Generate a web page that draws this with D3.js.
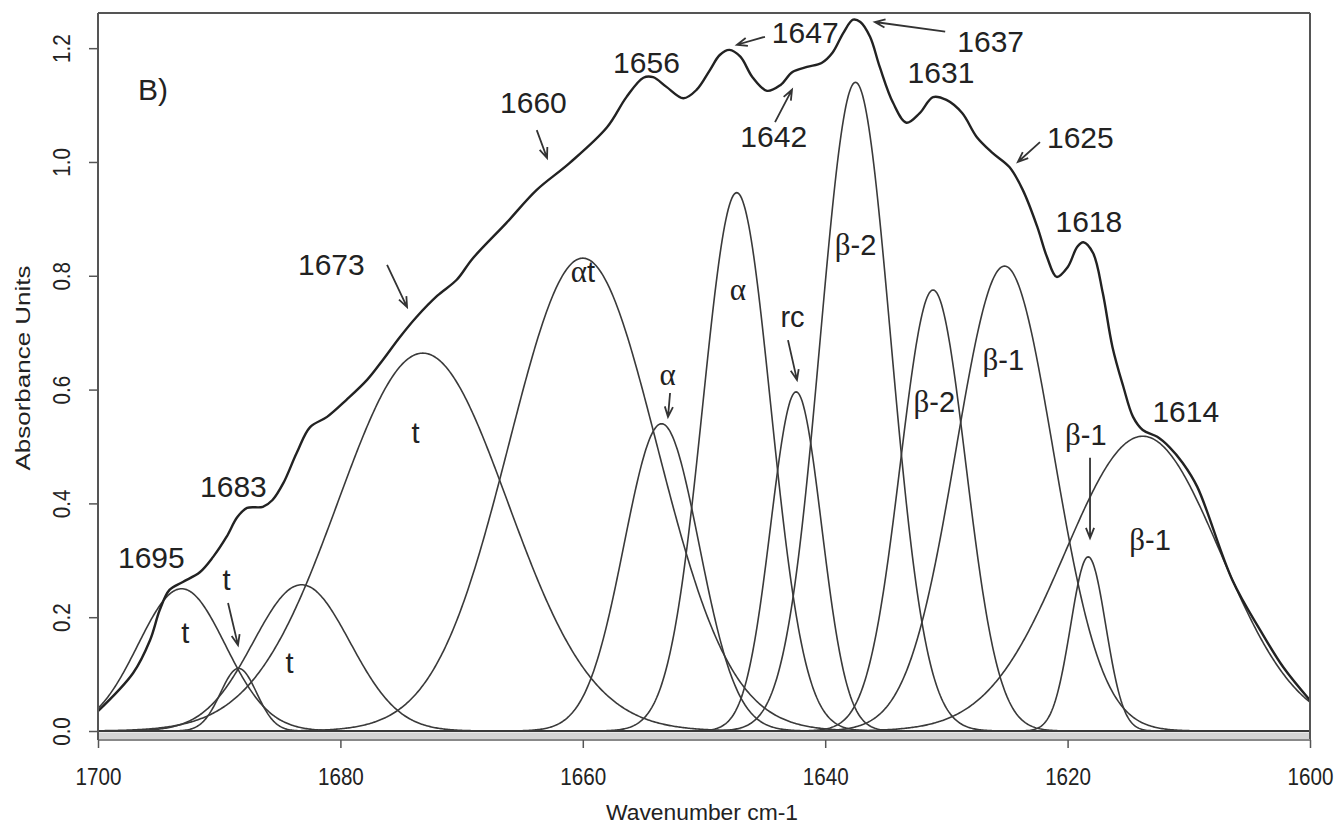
<!DOCTYPE html>
<html>
<head>
<meta charset="utf-8">
<script src="https://cdn.jsdelivr.net/npm/d3@7"></script>
<style>
  html, body { margin: 0; padding: 0; background: #fff; }
  svg { display: block; }
  text { font-family: "Liberation Sans", Arial, sans-serif; fill: #222; }
  .greek { font-family: "Liberation Serif", "Times New Roman", serif; }
</style>
</head>
<body>
<svg id="chart" width="1339" height="836"></svg>
<script>
// Amide I region: measured absorbance spectrum (wavenumber, absorbance)
const spectrumWavenumber = [
  1700.0, 1697.1, 1695.7, 1694.9, 1694.1, 1693.0, 1691.6, 1690.5, 1689.4, 1688.5,
  1687.7, 1686.4, 1685.6, 1684.7, 1683.6, 1682.5, 1681.1, 1679.5, 1677.8, 1676.5,
  1675.1, 1673.7, 1672.0, 1670.4, 1669.1, 1666.3, 1663.8, 1661.1, 1658.0, 1656.4,
  1655.0, 1654.2, 1653.1, 1651.7, 1650.6, 1649.5, 1648.7, 1647.9, 1647.0, 1646.0,
  1644.8, 1643.7, 1642.7, 1641.5, 1640.3, 1639.4, 1638.5, 1637.7, 1637.1, 1636.3,
  1635.5, 1634.4, 1633.3, 1632.2, 1631.1, 1630.0, 1628.7, 1627.5, 1626.2, 1624.8,
  1623.7, 1622.5, 1621.7, 1620.9, 1620.0, 1619.2, 1618.7, 1617.9, 1617.1, 1616.3,
  1615.4, 1614.6, 1613.8, 1612.6, 1611.6, 1610.5, 1609.3, 1606.4, 1604.1, 1602.2,
  1600.0
];
const spectrumAbsorbance = [
  0.035, 0.102, 0.160, 0.213, 0.248, 0.262, 0.279, 0.306, 0.341, 0.376,
  0.392, 0.394, 0.406, 0.436, 0.489, 0.534, 0.552, 0.582, 0.617, 0.652,
  0.692, 0.728, 0.765, 0.793, 0.830, 0.893, 0.951, 0.998, 1.061, 1.114,
  1.148, 1.149, 1.132, 1.112, 1.127, 1.162, 1.188, 1.197, 1.185, 1.149,
  1.125, 1.135, 1.158, 1.167, 1.174, 1.192, 1.227, 1.250, 1.246, 1.220,
  1.167, 1.104, 1.069, 1.086, 1.114, 1.109, 1.086, 1.044, 1.016, 0.991,
  0.951, 0.886, 0.833, 0.798, 0.815, 0.851, 0.859, 0.840, 0.770, 0.675,
  0.605, 0.552, 0.529, 0.517, 0.499, 0.471, 0.429, 0.265, 0.177, 0.112,
  0.054
];

// Fitted Gaussian component bands: position (cm-1), peak height (AU), standard deviation (cm-1)
const bandCenter = [1693.1, 1688.4, 1683.2, 1673.2, 1660.0, 1653.5, 1647.3, 1642.4, 1637.5, 1631.1, 1625.2, 1618.3, 1613.8];
const bandHeight = [0.250, 0.110, 0.257, 0.664, 0.831, 0.540, 0.946, 0.596, 1.140, 0.775, 0.817, 0.306, 0.518];
const bandSigma  = [3.6,   1.5,   4.0,   7.0,   6.1,   3.1,   2.8,   2.1,   2.9,   2.7,   4.0,   1.45,  6.4];

// Axis ticks
const wavenumberTicks = [1700, 1680, 1660, 1640, 1620, 1600];
const absorbanceTicks = [0.0, 0.2, 0.4, 0.6, 0.8, 1.0, 1.2];

// Peak wavenumber annotations and their placement (data units)
const peakNames = ["1695", "1683", "1673", "1660", "1656", "1647", "1642", "1637", "1631", "1625", "1618", "1614"];
const peakNameAt = [
  [1698.35, 0.286], [1691.58, 0.411], [1683.5, 0.801], [1666.83, 1.086],
  [1657.5, 1.156], [1644.4, 1.209], [1647.0, 1.026], [1629.1, 1.193],
  [1633.2, 1.139], [1621.7, 1.025], [1621.0, 0.877], [1613.0, 0.543]
];

// Secondary-structure assignments of the component bands
const assignNames = ["t", "t", "t", "t", "αt", "α", "α", "rc", "β-2", "β-2", "β-1", "β-1", "β-1"];
const assignAt = [
  [1692.8, 0.155], [1689.4, 0.248], [1684.2, 0.102], [1673.8, 0.506],
  [1660.0, 0.789], [1653.0, 0.608], [1647.2, 0.757], [1642.7, 0.710],
  [1637.5, 0.837], [1631.0, 0.561], [1625.3, 0.634], [1618.5, 0.503], [1613.2, 0.318]
];

// Pointer arrows [fromX, fromY, toX, toY] in data units
const arrows = [
  [1689.27, 0.225, 1688.45, 0.151],
  [1676.15, 0.819, 1674.5, 0.745],
  [1663.8, 1.056, 1662.95, 1.007],
  [1644.97, 1.220, 1647.28, 1.206],
  [1644.14, 1.070, 1642.74, 1.127],
  [1630.1, 1.229, 1635.9, 1.246],
  [1622.28, 1.035, 1624.1, 1.000],
  [1652.8, 0.594, 1652.97, 0.552],
  [1643.07, 0.687, 1642.33, 0.617],
  [1618.15, 0.480, 1618.15, 0.339]
];

const svg = d3.select("#chart");
const plot = { left: 98, right: 1310, top: 13, bottom: 740 };

const x = d3.scaleLinear().domain([1700, 1600]).range([plot.left, plot.right]);
const y = d3.scaleLinear().domain([-0.0158, 1.2618]).range([plot.bottom, plot.top]);

svg.append("clipPath").attr("id", "plot-clip")
  .append("rect")
  .attr("x", plot.left).attr("y", plot.top)
  .attr("width", plot.right - plot.left).attr("height", plot.bottom - plot.top);

// light band below the zero line
svg.append("rect")
  .attr("x", plot.left).attr("y", y(0) + 1.5)
  .attr("width", plot.right - plot.left).attr("height", plot.bottom - y(0) - 1.5)
  .attr("fill", "#d4d4d4");

const g = svg.append("g").attr("clip-path", "url(#plot-clip)");

// zero line
g.append("line")
  .attr("x1", plot.left).attr("x2", plot.right)
  .attr("y1", y(0)).attr("y2", y(0))
  .attr("stroke", "#333").attr("stroke-width", 2);

// component bands
const grid = d3.range(0, 1001).map(i => 1700 - i * 0.1);
const bandLine = d3.line().x(d => x(d[0])).y(d => y(d[1]));
bandCenter.forEach((c, i) => {
  const pts = grid.map(w => [w, bandHeight[i] * Math.exp(-((w - c) ** 2) / (2 * bandSigma[i] ** 2))]);
  g.append("path")
    .attr("d", bandLine(pts))
    .attr("fill", "none")
    .attr("stroke", "#3a3a3a")
    .attr("stroke-width", 1.6);
});

// measured spectrum
const spectrum = spectrumWavenumber.map((w, i) => [w, spectrumAbsorbance[i]]);
g.append("path")
  .attr("d", d3.line().curve(d3.curveCatmullRom.alpha(0.5)).x(d => x(d[0])).y(d => y(d[1]))(spectrum))
  .attr("fill", "none")
  .attr("stroke", "#222")
  .attr("stroke-width", 2.4);

// frame
const frame = svg.append("g").attr("stroke", "#555").attr("stroke-width", 2).attr("fill", "none");
frame.append("line").attr("x1", plot.left).attr("x2", plot.right).attr("y1", plot.top).attr("y2", plot.top);
frame.append("line").attr("x1", plot.right).attr("x2", plot.right).attr("y1", plot.top).attr("y2", plot.bottom);
frame.append("line").attr("x1", plot.left).attr("x2", plot.right).attr("y1", plot.bottom).attr("y2", plot.bottom).attr("stroke", "#888");
frame.append("line").attr("x1", plot.left).attr("x2", plot.left).attr("y1", plot.top).attr("y2", plot.bottom);

// x axis
const xAxis = d3.axisBottom(x).tickValues(wavenumberTicks).tickSize(8).tickFormat(d3.format("d"));
const xg = svg.append("g").attr("transform", `translate(0,${plot.bottom})`).call(xAxis);
xg.select(".domain").remove();
xg.selectAll(".tick line").attr("stroke", "#555").attr("stroke-width", 1.5);
xg.selectAll(".tick text")
  .attr("fill", "#333")
  .style("font-size", "24px")
  .attr("y", 0)
  .attr("dy", 0)
  .attr("transform", "translate(0,45) scale(0.86,1)");

// y axis
const yAxis = d3.axisLeft(y).tickValues(absorbanceTicks).tickSize(9).tickFormat(d3.format(".1f"));
const yg = svg.append("g").attr("transform", `translate(${plot.left},0)`).call(yAxis);
yg.select(".domain").remove();
yg.selectAll(".tick line").attr("stroke", "#555").attr("stroke-width", 1.5);
yg.selectAll(".tick text")
  .attr("fill", "#333")
  .style("font-size", "24px")
  .attr("x", 0).attr("dy", 0)
  .attr("text-anchor", "middle")
  .attr("transform", "translate(-28,0) rotate(-90) scale(0.86,1)");

// axis titles
svg.append("text")
  .attr("x", (plot.left + plot.right) / 2 - 2).attr("y", 820)
  .attr("text-anchor", "middle")
  .style("font-size", "22px").attr("fill", "#333")
  .attr("textLength", 192).attr("lengthAdjust", "spacingAndGlyphs")
  .text("Wavenumber cm-1");
svg.append("text")
  .attr("transform", "translate(30,368) rotate(-90)")
  .attr("text-anchor", "middle")
  .style("font-size", "21px").attr("fill", "#333")
  .attr("textLength", 205).attr("lengthAdjust", "spacingAndGlyphs")
  .text("Absorbance Units");

// panel tag
svg.append("text")
  .attr("x", 138).attr("y", 100)
  .style("font-size", "30px")
  .text("B)");

// peak labels
peakNames.forEach((t, i) => {
  svg.append("text")
    .attr("x", x(peakNameAt[i][0])).attr("y", y(peakNameAt[i][1]))
    .style("font-size", "30px")
    .text(t);
});

// assignment labels
assignNames.forEach((t, i) => {
  const txt = svg.append("text")
    .attr("x", x(assignAt[i][0])).attr("y", y(assignAt[i][1]))
    .attr("text-anchor", "middle")
    .style("font-size", "29px");
  const m = t.match(/^([αβ]?)(.*)$/);
  if (m[1]) txt.append("tspan").attr("class", "greek").style("font-size", "31px").text(m[1]);
  if (m[2]) txt.append("tspan").text(m[2]);
});

// arrows
arrows.forEach(a => {
  const x1 = x(a[0]), y1 = y(a[1]), x2 = x(a[2]), y2 = y(a[3]);
  const ang = Math.atan2(y2 - y1, x2 - x1);
  const head = 11, spread = 0.38;
  const p = d3.path();
  p.moveTo(x1, y1); p.lineTo(x2, y2);
  p.moveTo(x2 - head * Math.cos(ang - spread), y2 - head * Math.sin(ang - spread));
  p.lineTo(x2, y2);
  p.lineTo(x2 - head * Math.cos(ang + spread), y2 - head * Math.sin(ang + spread));
  svg.append("path").attr("d", p.toString())
    .attr("fill", "none").attr("stroke", "#333").attr("stroke-width", 1.8);
});
</script>
</body>
</html>
